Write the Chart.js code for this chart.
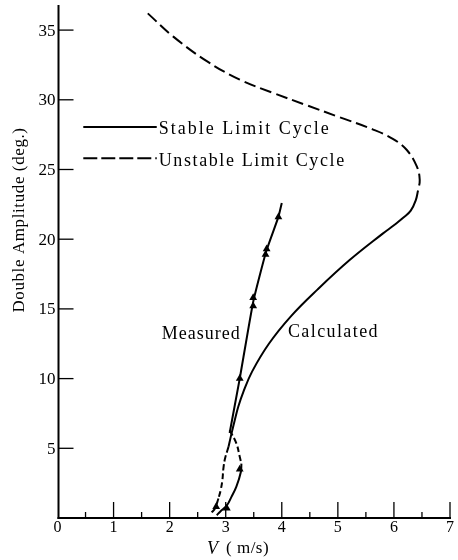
<!DOCTYPE html>
<html>
<head>
<meta charset="utf-8">
<script src="https://cdn.jsdelivr.net/npm/chart.js@4/dist/chart.umd.min.js"></script>
<style>
  html, body { margin: 0; padding: 0; background: #fff; }
  canvas { display: block; }
</style>
</head>
<body>
<canvas id="chart" width="458" height="560"></canvas>
<script>
// Axis ticks
const xMajorTicks = [0, 1, 2, 3, 4, 5, 6, 7];
const xMinorTicks = [0.5, 1.5, 2.5, 3.5, 4.5, 5.5, 6.5];
const yTicks = [5, 10, 15, 20, 25, 30, 35];

// Calculated: unstable limit cycle, upper branch (V in m/s, double amplitude in deg)
const upperV = [1.61, 2.06, 2.67, 3.25, 3.84, 4.45, 5.03, 5.62, 5.98, 6.23, 6.41, 6.46, 6.43];
const upperA = [36.2, 34.55, 32.75, 31.45, 30.5, 29.6, 28.75, 27.88, 27.2, 26.4, 25.2, 24.25, 23.5];

// Calculated: stable limit cycle
const stableV = [6.43, 6.39, 6.30, 6.17, 6.00, 5.80, 5.21, 4.64, 4.17, 3.77, 3.47, 3.31, 3.225, 3.16, 3.10, 3.05];
const stableA = [23.5, 22.8, 22.05, 21.55, 21.0, 20.4, 18.5, 16.4, 14.5, 12.5, 10.5, 9.0, 8.0, 7.0, 6.0, 5.1];

// Low-amplitude left branch: unstable part, then stable foot
const leftDashV = [3.05, 2.99, 2.96, 2.94, 2.91, 2.87];
const leftDashA = [5.1, 4.3, 3.6, 2.7, 2.0, 1.4];
const leftFootV = [2.87, 2.81, 2.75];
const leftFootA = [1.4, 0.7, 0.4];

// Low-amplitude right branch: unstable part, then stable part
const rightDashV = [3.07, 3.19, 3.25, 3.28];
const rightDashA = [6.3, 5.35, 4.4, 3.9];
const rightSolidV = [3.28, 3.27, 3.19, 3.10, 3.02, 2.90, 2.84];
const rightSolidA = [3.9, 3.3, 2.25, 1.5, 0.9, 0.45, 0.2];

// Measured
const measuredLineV = [3.07, 3.25, 3.49, 3.72, 3.94, 4.00];
const measuredLineA = [6.1, 10.0, 15.5, 19.1, 21.6, 22.6];
const measuredV = [3.94, 3.73, 3.71, 3.49, 3.49, 3.25, 3.25, 3.02, 2.83];
const measuredA = [21.6, 19.3, 18.9, 15.8, 15.2, 10.0, 3.5, 0.7, 0.8];

const pts = (vs, as) => vs.map((v, i) => ({ x: v, y: as[i] }));

const SERIF = '"Liberation Serif", "Times New Roman", serif';

function line(ctx, x1, y1, x2, y2) {
  ctx.beginPath(); ctx.moveTo(x1, y1); ctx.lineTo(x2, y2); ctx.stroke();
}

// Axes with inward ticks, tick labels, titles and the in-plot key
const frame = {
  id: 'frame',
  beforeDatasetsDraw(chart) {
    const { ctx, scales: { x, y } } = chart;
    const x0 = x.getPixelForValue(0);
    const y0 = y.getPixelForValue(0);
    const xEnd = x.getPixelForValue(7);
    const yTop = y.getPixelForValue(y.max);
    ctx.save();
    ctx.strokeStyle = '#000';
    ctx.fillStyle = '#000';
    ctx.lineWidth = 2;
    line(ctx, x0 + 1, y0 + 1, x0 + 1, yTop);
    line(ctx, x0, y0, xEnd + 1, y0);

    ctx.lineWidth = 1.3;
    xMajorTicks.forEach(v => {
      if (v === 0) return;
      const px = x.getPixelForValue(v);
      line(ctx, px, y0, px, y0 - 16);
    });
    xMinorTicks.forEach(v => {
      const px = x.getPixelForValue(v);
      line(ctx, px, y0, px, y0 - 6);
    });
    yTicks.forEach(v => {
      const py = y.getPixelForValue(v);
      line(ctx, x0 + 1, py, x0 + 16, py);
    });

    ctx.font = '16px ' + SERIF;
    ctx.textAlign = 'center';
    ctx.textBaseline = 'top';
    xMajorTicks.forEach(v => ctx.fillText(String(v), x.getPixelForValue(v), y0 + 2));

    ctx.font = '17px ' + SERIF;
    ctx.textAlign = 'right';
    ctx.textBaseline = 'middle';
    yTicks.forEach(v => ctx.fillText(String(v), x0 - 2, y.getPixelForValue(v) + 1));

    // x-axis title
    ctx.textAlign = 'left';
    ctx.textBaseline = 'middle';
    ctx.font = 'italic 18px ' + SERIF;
    ctx.fillText('V', 207, 549);
    ctx.font = '17px ' + SERIF;
    ctx.letterSpacing = '0.5px';
    ctx.fillText('( m/s)', 226, 549);

    // y-axis title
    ctx.save();
    ctx.translate(20, 220);
    ctx.rotate(-Math.PI / 2);
    ctx.textAlign = 'center';
    ctx.font = '17px ' + SERIF;
    ctx.letterSpacing = '0.6px';
    ctx.fillText('Double Amplitude (deg.)', 0, 0);
    ctx.restore();

    // key
    ctx.lineWidth = 2;
    const kx1 = x.getPixelForValue(0.46), kx2 = x.getPixelForValue(1.77);
    const ky1 = y.getPixelForValue(28.05), ky2 = y.getPixelForValue(25.8);
    line(ctx, kx1, ky1, kx2, ky1);
    ctx.setLineDash([14, 4]);
    line(ctx, kx1, ky2, kx2, ky2);
    ctx.setLineDash([]);
    ctx.font = '18px ' + SERIF;
    ctx.letterSpacing = '2px';
    ctx.textAlign = 'left';
    ctx.fillText('Stable Limit Cycle', kx2 + 2, ky1 + 2);
    ctx.letterSpacing = '1.6px';
    ctx.fillText('Unstable Limit Cycle', kx2 + 2, ky2 + 3);

    // curve labels
    ctx.letterSpacing = '1px';
    ctx.fillText('Measured', x.getPixelForValue(1.86), y.getPixelForValue(13.2));
    ctx.letterSpacing = '1.4px';
    ctx.fillText('Calculated', x.getPixelForValue(4.11), y.getPixelForValue(13.35));
    ctx.restore();
  }
};

const curve = (data, dash) => ({
  data, showLine: true, borderColor: '#000', borderWidth: 2,
  borderDash: dash || [], pointRadius: 0, tension: 0.4, fill: false, clip: false
});

new Chart(document.getElementById('chart'), {
  type: 'scatter',
  data: {
    datasets: [
      curve(pts(upperV, upperA), [12, 5]),
      curve(pts(stableV, stableA)),
      curve(pts(leftDashV, leftDashA), [6, 3]),
      curve(pts(leftFootV, leftFootA)),
      curve(pts(rightDashV, rightDashA), [6, 3]),
      curve(pts(rightSolidV, rightSolidA)),
      Object.assign(curve(pts(measuredLineV, measuredLineA)), { tension: 0.15 }),
      {
        data: pts(measuredV, measuredA), showLine: false, pointStyle: 'triangle',
        pointRadius: 4.5, backgroundColor: '#000', borderColor: '#000', borderWidth: 0, clip: false
      }
    ]
  },
  options: {
    responsive: false,
    animation: false,
    devicePixelRatio: 1,
    layout: { padding: { left: 57.5, right: 8, top: 5, bottom: 42 } },
    plugins: { legend: { display: false }, tooltip: { enabled: false } },
    scales: {
      x: { type: 'linear', min: 0, max: 7, display: false },
      y: { type: 'linear', min: 0, max: 36.8, display: false }
    }
  },
  plugins: [frame]
});
</script>
</body>
</html>
